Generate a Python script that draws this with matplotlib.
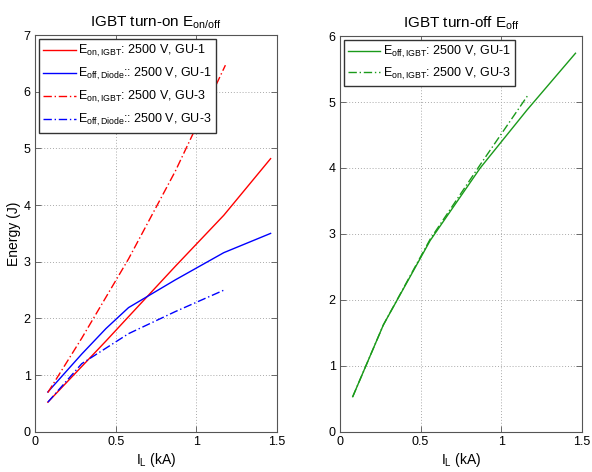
"""
IGBT switching energy vs. load current for two gate units (GU-1, GU-3).
Left: turn-on IGBT / diode turn-off energy. Right: IGBT turn-off energy.
"""

import matplotlib
matplotlib.use("Agg")
import matplotlib.pyplot as plt

plt.rcParams["font.family"] = ["Liberation Sans", "DejaVu Sans"]
plt.rcParams["mathtext.fontset"] = "custom"
plt.rcParams["mathtext.rm"] = "Liberation Sans"
plt.rcParams["mathtext.it"] = "Liberation Sans"

# load current (kA) and energies (J)
il_gu1 = [0.08, 0.29, 0.44, 0.58, 0.87, 1.17, 1.46]
il_gu3 = [0.08, 0.29, 0.58, 0.87, 1.18]

eon_igbt_gu1 = [0.52, 1.15, 1.60, 2.03, 2.92, 3.82, 4.82]
eoff_diode_gu1 = [0.70, 1.37, 1.82, 2.19, 2.68, 3.16, 3.50]
eon_igbt_gu3 = [0.69, 1.65, 3.05, 4.60, 6.47]
eoff_diode_gu3 = [0.52, 1.20, 1.73, 2.12, 2.51]

il_off_gu1 = [0.08, 0.27, 0.56, 0.87, 1.16, 1.46]
il_off_gu3 = [0.08, 0.27, 0.56, 0.87, 1.17]
eoff_igbt_gu1 = [0.53, 1.62, 2.90, 4.00, 4.88, 5.74]
eoff_igbt_gu3 = [0.53, 1.62, 2.92, 4.05, 5.12]

lbl_on = r"$\mathregular{E_{on,IGBT}}$"
lbl_off = r"$\mathregular{E_{off,IGBT}}$"
lbl_diode = r"$\mathregular{E_{off,Diode}}$"

GREEN = "#1a9a1a"
EDGE = "#555555"
DASHDOT = (0, (6, 2, 1, 2))


def style_axes(ax, ymax):
    ax.set_xlim(0, 1.5)
    ax.set_ylim(0, ymax)
    ax.set_xticks([0, 0.5, 1, 1.5])
    ax.set_xticklabels(["0", "0.5", "1", "1.5"])
    ax.set_yticks(range(0, ymax + 1))
    ax.tick_params(direction="in", length=4, width=0.6, color=EDGE,
                   labelsize=9, top=True, right=True, pad=3)
    for sp in ax.spines.values():
        sp.set_color(EDGE)
        sp.set_linewidth(0.8)
    ax.grid(True, linestyle=(0, (1, 2)), color="#aaaaaa", linewidth=0.7)
    ax.set_xlabel(r"$\mathregular{I_L}$ (kA)", fontsize=10, labelpad=2)


def add_legend(ax, spacing):
    ax.legend(loc="upper left", fontsize=9, frameon=True, fancybox=False,
              edgecolor="#333333", framealpha=1, handlelength=2.6,
              borderaxespad=0.3, labelspacing=spacing, borderpad=0.35,
              handletextpad=0.2)


fig = plt.figure(figsize=(5.92, 4.72), dpi=100)
ax1 = fig.add_axes([0.059, 0.0855, 0.409, 0.840])
ax2 = fig.add_axes([0.574, 0.0855, 0.409, 0.838])

ax1.plot(il_gu1, eon_igbt_gu1, color="red", lw=1.0,
         label=lbl_on + ": 2500 V, GU-1")
ax1.plot(il_gu1, eoff_diode_gu1, color="blue", lw=1.0,
         label=lbl_diode + ":: 2500 V, GU-1")
ax1.plot(il_gu3, eon_igbt_gu3, color="red", lw=1.0, ls=DASHDOT,
         label=lbl_on + ": 2500 V, GU-3")
ax1.plot(il_gu3, eoff_diode_gu3, color="blue", lw=1.0, ls=DASHDOT,
         label=lbl_diode + ":: 2500 V, GU-3")
style_axes(ax1, 7)
ax1.set_ylabel("Energy (J)", fontsize=10, labelpad=2)
ax1.set_title("IGBT turn-on " + r"$\mathregular{E_{on/off}}$", fontsize=11, pad=6)
add_legend(ax1, 0.55)

ax2.plot(il_off_gu1, eoff_igbt_gu1, color=GREEN, lw=1.0,
         label=lbl_off + ": 2500 V, GU-1")
ax2.plot(il_off_gu3, eoff_igbt_gu3, color=GREEN, lw=1.0, ls=DASHDOT,
         label=lbl_on + ": 2500 V, GU-3")
style_axes(ax2, 6)
ax2.set_title("IGBT turn-off " + r"$\mathregular{E_{off}}$", fontsize=11, pad=6)
add_legend(ax2, 0.45)

fig.savefig("out.png", dpi=100)
